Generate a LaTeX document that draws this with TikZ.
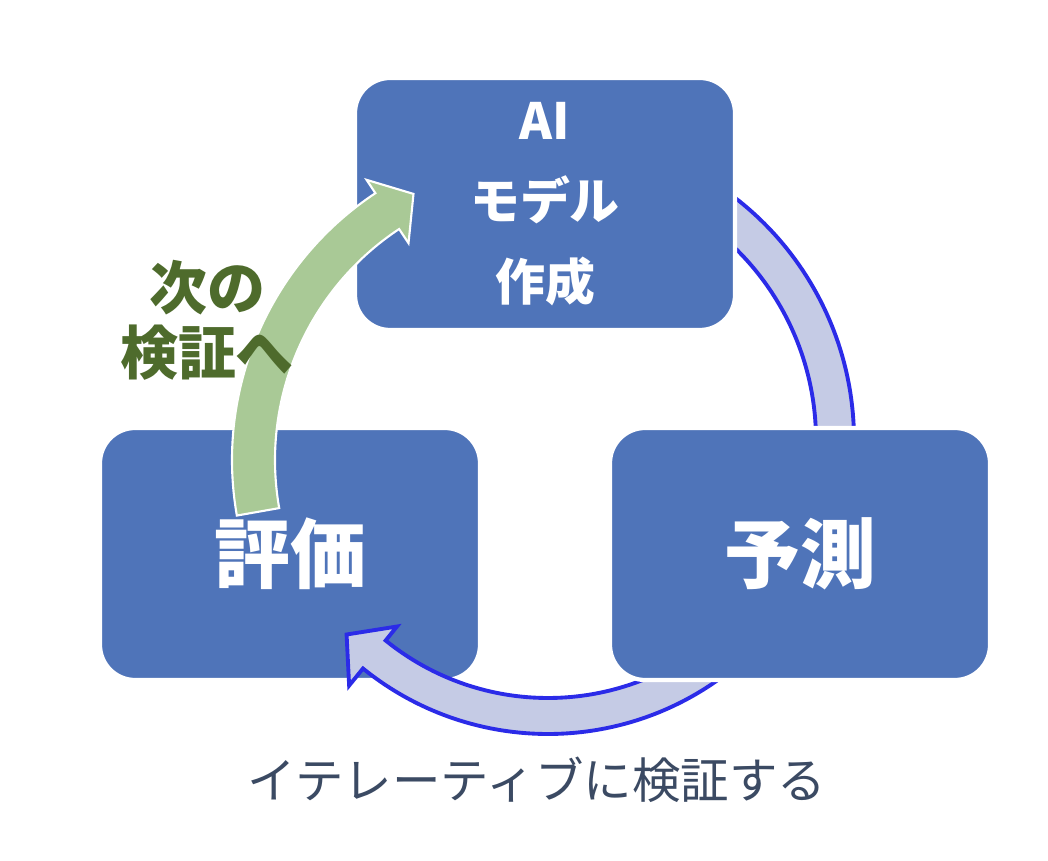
\documentclass[tikz,border=0pt]{standalone}
\usepackage{fontspec}
\newfontfamily\jpfont{Noto Sans CJK JP}
\usetikzlibrary{calc}

\definecolor{boxblue}{RGB}{79,116,185}
\definecolor{ringfill}{RGB}{197,203,229}
\definecolor{ringline}{RGB}{43,43,232}
\definecolor{nextfill}{RGB}{169,201,150}
\definecolor{nexttext}{RGB}{78,107,44}
\definecolor{captext}{RGB}{59,74,99}

\begin{document}
\begin{tikzpicture}[
  stagebox/.style={draw=white, line width=1.2pt, fill=boxblue,
                   rounded corners=10pt, minimum width=3.8cm,
                   minimum height=2.52cm, text=white, align=center},
  ringarrow/.style={fill=ringfill, draw=ringline, line width=1.1pt},
  nextarrow/.style={fill=nextfill, draw=white, line width=0.6pt},
]
\useasboundingbox (0,0) rectangle (10.48,-8.61);

% --- Centres of the cycle ---
\coordinate (C)  at (5.48,-4.40);
\coordinate (Cg) at (5.52,-4.60);

% --- Right arc (ends hidden under the boxes) ---
\filldraw[ringarrow]
  ([shift={(C)}]58:3.06) arc[start angle=58, end angle=-5, radius=3.06]
  -- ([shift={(C)}]-5:2.68) arc[start angle=-5, end angle=58, radius=2.68]
  -- cycle;

% --- Stage boxes ---
\node[stagebox, font=\jpfont\bfseries\fontsize{14.2pt}{23pt}\selectfont]
  (model) at (5.45,-2.04) {AI\\モデル\\作成};
\node[stagebox, font=\jpfont\bfseries\fontsize{21.6pt}{26pt}\selectfont]
  (evaluate) at (2.90,-5.54) {評価};

% --- Bottom arc with head over the left box ---
\filldraw[ringarrow]
  ([shift={(C)}]310:2.94) arc[start angle=310, end angle=231, radius=2.94]
  -- ([shift={(C)}]231:3.16) -- ([shift={(C)}]224:2.80)
  -- ([shift={(C)}]231:2.40) -- ([shift={(C)}]231:2.58)
  arc[start angle=231, end angle=310, radius=2.58] -- cycle;

\node[stagebox, font=\jpfont\bfseries\fontsize{21.6pt}{26pt}\selectfont]
  (predict) at (8.00,-5.54) {予測};

% --- Green arrow back to the model ---
\filldraw[nextarrow]
  ([shift={(Cg)}]190:3.20) arc[start angle=190, end angle=123.5, radius=3.20]
  -- ([shift={(Cg)}]123.5:3.36) -- ([shift={(Cg)}]117.5:3.00)
  -- ([shift={(Cg)}]123.5:2.60) -- ([shift={(Cg)}]123.5:2.77)
  arc[start angle=123.5, end angle=190, radius=2.77] -- cycle;

% --- Labels ---
\node[text=nexttext, align=center,
      font=\jpfont\bfseries\fontsize{16.5pt}{18.5pt}\selectfont]
  (nextlabel) at (2.07,-3.20) {次の\\検証へ};
\node[text=captext, font=\jpfont\fontsize{13.8pt}{16pt}\selectfont]
  (caption) at (5.37,-7.80) {イテレーティブに検証する};
\end{tikzpicture}
\end{document}
